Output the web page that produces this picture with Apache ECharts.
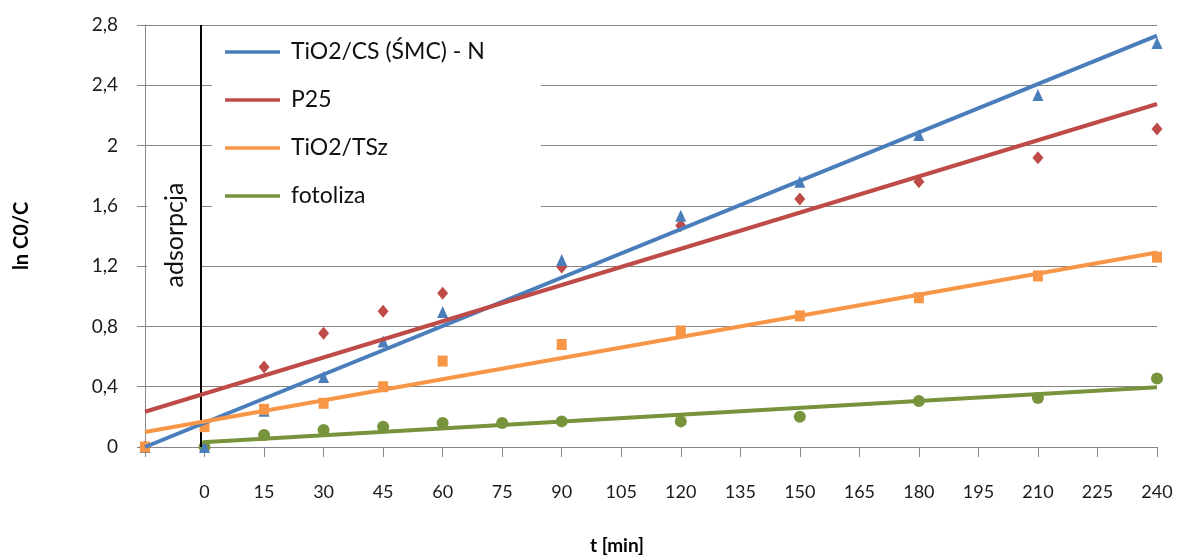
<!DOCTYPE html>
<html>
<head>
<meta charset="utf-8">
<script src="https://cdn.jsdelivr.net/npm/echarts@6/dist/echarts.min.js"></script>
<style>
  html, body { margin: 0; padding: 0; background: #fff; }
  #chart { width: 1180px; height: 556px; }
</style>
</head>
<body>
<div id="chart"></div>
<script>
// Measured points: time [min] and ln(C0/C) for each sample
const tCS = [-15, 0, 15, 30, 45, 60, 90, 120, 150, 180, 210, 240];
const lnCS = [0, 0, 0.24, 0.465, 0.70, 0.895, 1.24, 1.535, 1.76, 2.07, 2.335, 2.68];

const tP25 = [-15, 15, 30, 45, 60, 90, 120, 150, 180, 210, 240];
const lnP25 = [0, 0.53, 0.755, 0.90, 1.02, 1.195, 1.47, 1.645, 1.76, 1.92, 2.11];

const tTSz = [-15, 0, 15, 30, 45, 60, 90, 120, 150, 180, 210, 240];
const lnTSz = [0, 0.135, 0.25, 0.29, 0.40, 0.57, 0.68, 0.77, 0.87, 0.99, 1.135, 1.26];

const tFoto = [0, 15, 30, 45, 60, 75, 90, 120, 150, 180, 210, 240];
const lnFoto = [0, 0.08, 0.113, 0.135, 0.16, 0.16, 0.17, 0.17, 0.20, 0.305, 0.325, 0.455];

// Linear trend lines: [start, end] as [t, ln(C0/C)]
const trendCS = [[-15, 0.0], [240, 2.73]];
const trendP25 = [[-15, 0.234], [240, 2.276]];
const trendTSz = [[-15, 0.10], [240, 1.29]];
const trendFoto = [[-0.5, 0.031], [240, 0.396]];

const names = ['TiO2/CS (ŚMC) - N', 'P25', 'TiO2/TSz', 'fotoliza'];
const colors = ['#4A7EBB', '#BE4B48', '#F79646', '#77933C'];

// Start of irradiation (end of the adsorption stage)
const adsorptionEnd = -1;

const yTicks = { min: 0, max: 2.8, step: 0.4 };
const xTicks = { min: -15, max: 240, step: 15 };

const FONT = 'Lato, "Liberation Sans", sans-serif';
const GRID_GRAY = '#868686';

function pairs(xs, ys) { return xs.map((x, i) => [x, ys[i]]); }

const pointSets = [
  { t: tCS, v: lnCS, symbol: 'triangle', size: [11, 12], z: 4 },
  { t: tP25, v: lnP25, symbol: 'diamond', size: [11, 13], z: 3 },
  { t: tTSz, v: lnTSz, symbol: 'rect', size: [10, 11], z: 5 },
  { t: tFoto, v: lnFoto, symbol: 'circle', size: 12, z: 2 }
];
const trends = [trendCS, trendP25, trendTSz, trendFoto];

const series = [];
trends.forEach((tr, i) => {
  const s = {
    name: names[i],
    type: 'line',
    data: tr,
    symbol: 'none',
    showSymbol: false,
    z: 6,
    lineStyle: { color: colors[i], width: 4 },
    itemStyle: { color: colors[i] }
  };
  if (i === 0) {
    s.markLine = {
      silent: true,
      symbol: 'none',
      animation: false,
      label: { show: false },
      lineStyle: { color: '#000', width: 2, type: 'solid', opacity: 1 },
      data: [{ xAxis: adsorptionEnd }]
    };
  }
  series.push(s);
});
pointSets.forEach((p, i) => {
  series.push({
    name: 'pomiar ' + names[i],
    type: 'scatter',
    data: pairs(p.t, p.v),
    symbol: p.symbol,
    symbolSize: p.size,
    clip: false,
    z: p.z,
    itemStyle: { color: colors[i], opacity: 1 }
  });
});

const chart = echarts.init(document.getElementById('chart'));
chart.setOption({
  animation: false,
  backgroundColor: '#fff',
  textStyle: { fontFamily: FONT },
  grid: {
    left: 145, right: 23, top: 25, bottom: 109,
    containLabel: false,
    outerBoundsMode: 'none'
  },
  xAxis: {
    type: 'value',
    min: xTicks.min,
    max: xTicks.max,
    interval: xTicks.step,
    axisLine: { show: true, onZero: false, lineStyle: { color: GRID_GRAY, width: 1 } },
    axisTick: { show: true, length: 10, lineStyle: { color: GRID_GRAY } },
    splitLine: { show: false },
    axisLabel: {
      margin: 36,
      color: '#1a1a1a',
      fontSize: 18,
      fontFamily: FONT,
      formatter: v => (v < 0 ? '' : String(v))
    }
  },
  yAxis: {
    type: 'value',
    min: yTicks.min,
    max: yTicks.max,
    interval: yTicks.step,
    name: 'ln C0/C',
    nameLocation: 'middle',
    nameRotate: 90,
    nameGap: 113,
    nameTextStyle: { fontSize: 20, fontWeight: 'bold', color: '#000', fontFamily: FONT },
    axisLine: { show: true, onZero: false, lineStyle: { color: GRID_GRAY, width: 1 } },
    axisTick: { show: true, length: 8, lineStyle: { color: GRID_GRAY } },
    splitLine: { show: true, lineStyle: { color: GRID_GRAY, width: 1 } },
    axisLabel: {
      margin: 27,
      color: '#1a1a1a',
      fontSize: 19,
      fontFamily: FONT,
      formatter: v => String(+v.toFixed(1)).replace('.', ',')
    }
  },
  legend: {
    show: true,
    orient: 'vertical',
    left: 212,
    top: 26,
    data: names.map(n => ({ name: n, icon: 'rect' })),
    itemWidth: 55,
    itemHeight: 3.5,
    itemGap: 24,
    backgroundColor: '#fff',
    padding: [14, 56, 12, 13],
    selectedMode: false,
    textStyle: { fontSize: 23, lineHeight: 24, color: '#111', fontFamily: FONT, padding: [0, 0, 0, 6] }
  },
  graphic: [
    {
      type: 'rect',
      z: 50,
      shape: { x: 147, y: 172, width: 53, height: 126 },
      style: { fill: '#fff' }
    },
    {
      type: 'text',
      z: 51,
      x: 175,
      y: 235,
      rotation: Math.PI / 2,
      style: {
        text: 'adsorpcja',
        fontSize: 25,
        fontFamily: FONT,
        fill: '#111',
        align: 'center',
        verticalAlign: 'middle'
      }
    },
    {
      type: 'text',
      x: 617,
      y: 546,
      style: {
        text: 't [min]',
        fontSize: 19,
        fontWeight: 'bold',
        fontFamily: FONT,
        fill: '#000',
        align: 'center',
        verticalAlign: 'middle'
      }
    }
  ],
  series: series
});
</script>
</body>
</html>
